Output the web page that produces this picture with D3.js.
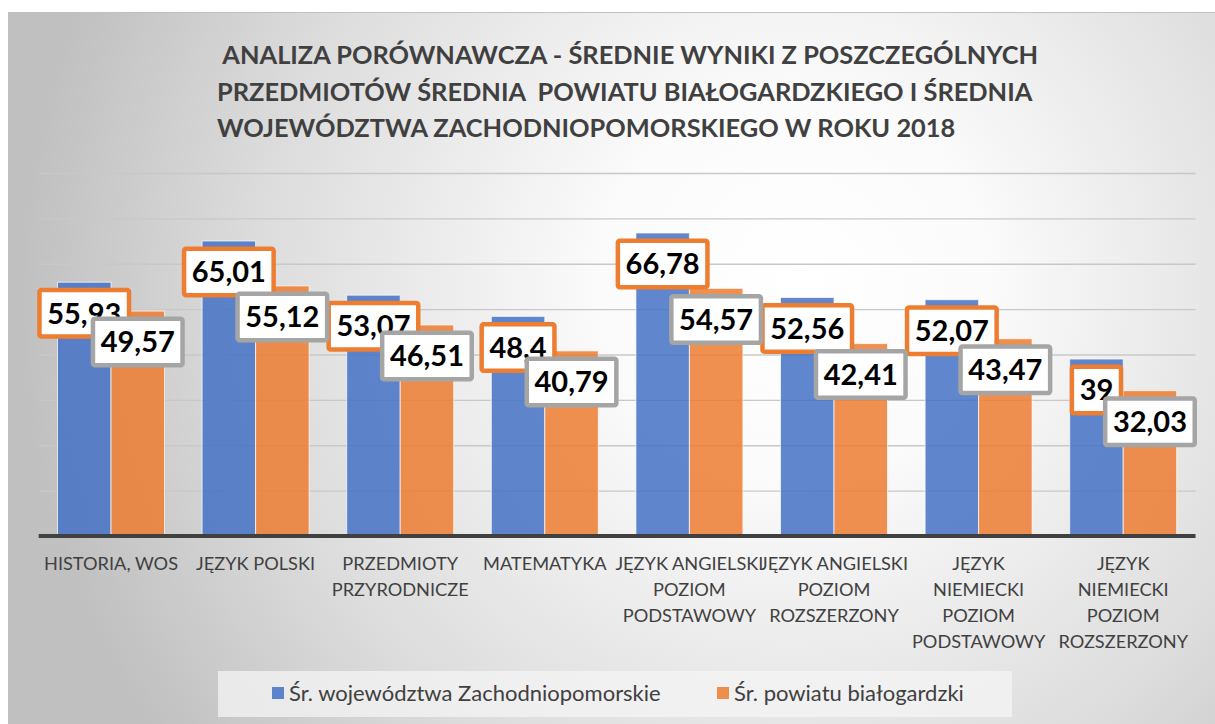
<!DOCTYPE html>
<html><head><meta charset="utf-8">
<script src="https://cdn.jsdelivr.net/npm/d3@7"></script>
<style>
html,body{margin:0;padding:0;background:#fff;}
svg{display:block;}
</style></head>
<body>
<svg id="chart" width="1215" height="724"></svg>
<script>
// ---- data ----
const categories = [
  "HISTORIA, WOS",
  "JĘZYK POLSKI",
  "PRZEDMIOTY\nPRZYRODNICZE",
  "MATEMATYKA",
  "JĘZYK ANGIELSKI\nPOZIOM\nPODSTAWOWY",
  "JĘZYK ANGIELSKI\nPOZIOM\nROZSZERZONY",
  "JĘZYK\nNIEMIECKI\nPOZIOM\nPODSTAWOWY",
  "JĘZYK\nNIEMIECKI\nPOZIOM\nROZSZERZONY"
];
const seriesNames = ["Śr. województwa Zachodniopomorskie", "Śr. powiatu białogardzki"];
const wojewodztwo = [55.93, 65.01, 53.07, 48.4, 66.78, 52.56, 52.07, 39];
const powiat = [49.57, 55.12, 46.51, 40.79, 54.57, 42.41, 43.47, 32.03];
const yTicks = [0, 10, 20, 30, 40, 50, 60, 70, 80];
const titleLines = [
  " ANALIZA PORÓWNAWCZA - ŚREDNIE WYNIKI Z POSZCZEGÓLNYCH",
  "PRZEDMIOTÓW ŚREDNIA  POWIATU BIAŁOGARDZKIEGO I ŚREDNIA",
  "WOJEWÓDZTWA ZACHODNIOPOMORSKIEGO W ROKU 2018"
];

// ---- layout ----
const W = 1215, H = 724;
const plot = {left: 38.7, right: 1195.5, top: 173, bottom: 536};
const barColors = ["#4472C4", "#ED7D31"];
const labelBorder = ["#ED7D31", "#A5A5A5"];
const textColor = "#404040";

const svg = d3.select("#chart");
const defs = svg.append("defs");
const grad = defs.append("radialGradient").attr("id", "bg")
  .attr("gradientUnits", "userSpaceOnUse")
  .attr("cx", 780).attr("cy", 300).attr("r", 760)
  .attr("fx", 800).attr("fy", 280);
grad.append("stop").attr("offset", "0").attr("stop-color", "#ffffff");
grad.append("stop").attr("offset", "0.25").attr("stop-color", "#fbfbfb");
grad.append("stop").attr("offset", "0.7").attr("stop-color", "#dcdcdc");
grad.append("stop").attr("offset", "1").attr("stop-color", "#c0c0c0");

svg.append("rect").attr("x", 8.5).attr("y", 12.5).attr("width", W).attr("height", H)
  .attr("fill", "url(#bg)").attr("stroke", "#c0c0c0").attr("stroke-width", 1);

// title
const title = svg.append("text").attr("fill", textColor)
  .attr("font-family", "Lato, 'Open Sans', sans-serif").attr("font-weight", "bold")
  .attr("font-size", 25.4).attr("xml:space", "preserve").style("white-space", "pre");
titleLines.forEach((t, i) => {
  title.append("tspan").attr("x", 217).attr("y", 64 + i * 36.5).text(t);
});

// scales
const x0 = d3.scaleBand().domain(categories).range([plot.left, plot.right])
  .paddingInner(0.26).paddingOuter(0.13);
const x1 = d3.scaleBand().domain([0, 1]).range([0, x0.bandwidth()]);
const y = d3.scaleLinear().domain([0, 80]).range([plot.bottom, plot.top]);

// gridlines
const grid = svg.append("g").attr("transform", `translate(${plot.left},0)`)
  .call(d3.axisLeft(y).tickValues(yTicks).tickSize(-(plot.right - plot.left)).tickFormat(""));
grid.select(".domain").remove();
grid.selectAll(".tick line").attr("stroke", "#c8c8c8").attr("stroke-width", 1.3);

// bars
const series = [wojewodztwo, powiat];
const groups = svg.append("g").selectAll("g").data(series).join("g");
groups.selectAll("rect").data((d, si) => d.map((v, ci) => ({v, ci, si})))
  .join("rect")
  .attr("x", d => x0(categories[d.ci]) + x1(d.si))
  .attr("y", d => y(d.v))
  .attr("width", x1.bandwidth())
  .attr("height", d => y(0) - y(d.v))
  .attr("fill", d => barColors[d.si]).attr("fill-opacity", 0.85)
  .attr("stroke", "#ffffff").attr("stroke-opacity", 0.7).attr("stroke-width", 1);

// baseline axis with category labels
const xAxis = svg.append("g").attr("transform", `translate(0,${plot.bottom})`)
  .call(d3.axisBottom(x0).tickSize(0).tickFormat(""));
xAxis.select(".domain").attr("stroke", "#404040").attr("stroke-width", 4)
  .attr("d", `M${plot.left},0H${plot.right}`);
xAxis.selectAll(".tick").each(function(c) {
  const t = d3.select(this).append("text").attr("fill", textColor)
    .attr("font-family", "Lato, sans-serif").attr("font-size", 18.2)
    .attr("text-anchor", "middle");
  c.split("\n").forEach((line, i) => {
    t.append("tspan").attr("x", 0).attr("y", 34 + i * 26).text(line);
  });
});

// data labels
const fmt = v => String(v).replace(".", ",");
series.forEach((vals, si) => {
  const lg = svg.append("g");
  vals.forEach((v, ci) => {
    const cx = x0(categories[ci]) + x1(si) + x1.bandwidth() / 2;
    const cy = y(v) + 31;
    const g = lg.append("g");
    const rect = g.append("rect");
    const txt = g.append("text").attr("x", cx).attr("y", cy + 10.3)
      .attr("text-anchor", "middle").attr("font-family", "Lato, sans-serif")
      .attr("font-weight", "bold").attr("font-size", 29).attr("fill", "#000")
      .text(fmt(v));
    const tw = txt.node().getComputedTextLength();
    const bw = tw + 15.5, bh = 46.5;
    rect.attr("x", cx - bw / 2).attr("y", cy - bh / 2).attr("width", bw).attr("height", bh)
      .attr("rx", 2).attr("fill", "#ffffff").attr("stroke", labelBorder[si]).attr("stroke-width", 4.5);
  });
});

// legend
const leg = svg.append("g");
leg.append("rect").attr("x", 218).attr("y", 671).attr("width", 794).attr("height", 46)
  .attr("fill", "#f4f4f4").attr("fill-opacity", 0.75);
const legX = [272, 717];
seriesNames.forEach((n, i) => {
  leg.append("rect").attr("x", legX[i]).attr("y", 687).attr("width", 12).attr("height", 12)
    .attr("fill", barColors[i]).attr("fill-opacity", 0.85);
  leg.append("text").attr("x", legX[i] + 17).attr("y", 700.5).attr("fill", textColor)
    .attr("font-family", "Lato, sans-serif").attr("font-size", 22).text(n);
});
</script>
</body></html>
